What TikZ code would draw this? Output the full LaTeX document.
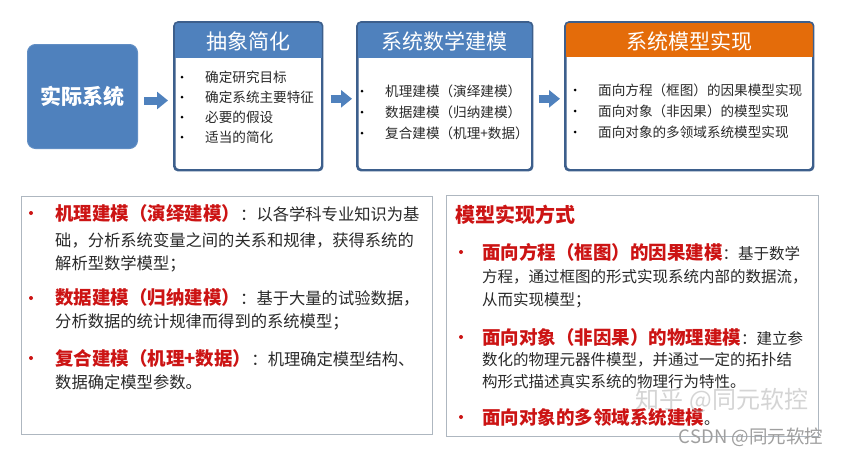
\documentclass[tikz,border=0pt]{standalone}
\usepackage{fontspec}
\setmainfont{Noto Sans CJK SC}
\usetikzlibrary{calc,arrows.meta}
\definecolor{hblue}{HTML}{4F81BD}
\definecolor{bdark}{HTML}{3D5F8C}
\definecolor{horange}{HTML}{E46C0A}
\definecolor{tred}{HTML}{CC1414}
\definecolor{gbord}{HTML}{AEB7C0}
\definecolor{txt}{HTML}{2A2A2A}
\definecolor{arrblue}{HTML}{4F81BD}
\newcommand\redkey[1]{{\color{tred}\bfseries\fontsize{18.5pt}{21pt}\selectfont #1}}
\begin{document}
\begin{tikzpicture}[x=1pt,y=-1pt,
  realbox/.style={rounded corners=8pt, fill=hblue, draw=hblue!90!white, line width=1pt,
    text=white, font=\bfseries\fontsize{21pt}{24pt}\selectfont, anchor=north west, inner sep=0pt},
  outerbox/.style={draw=bdark, line width=1.6pt, rounded corners=4pt, fill=white,
    anchor=north west, inner sep=0pt},
  htext/.style={text=white, font=\fontsize{21pt}{24pt}\selectfont, inner sep=0pt},
  bul/.style={circle, fill=black, inner sep=0pt, minimum size=3pt},
  itm/.style={anchor=west, inner sep=0pt, text=txt, font=\fontsize{13.6pt}{16pt}\selectfont},
  lowbox/.style={draw=gbord, line width=1.1pt, anchor=north west, inner sep=0pt},
  rbul/.style={circle, fill=tred, inner sep=0pt, minimum size=4pt},
  lnL/.style={anchor=west, inner sep=0pt, text=txt, font=\fontsize{16.3pt}{19pt}\selectfont},
  lnR/.style={anchor=west, inner sep=0pt, text=txt, font=\fontsize{15.5pt}{18pt}\selectfont},
  blockarrow/.style={arrblue, line width=8pt, -{Triangle[length=11pt,width=17pt]}}
]
\useasboundingbox (0,0) rectangle (843,456);
\fill[white] (0,0) rectangle (843,456);

% ---- top row ----
\node[realbox, minimum width=110pt, minimum height=104pt] (real) at (27,44) {实际系统};

\node[outerbox, minimum width=147pt, minimum height=147pt] (abs) at (174,22) {};
\node[outerbox, minimum width=174pt, minimum height=147pt] (math) at (357,22) {};
\node[outerbox, minimum width=247pt, minimum height=147pt] (impl) at (565,22) {};

\begin{scope}
  \clip[rounded corners=4pt] (abs.north west) rectangle (abs.south east);
  \fill[hblue] (abs.north west) rectangle ($(abs.north east)+(0,36)$);
\end{scope}
\begin{scope}
  \clip[rounded corners=4pt] (math.north west) rectangle (math.south east);
  \fill[hblue] (math.north west) rectangle ($(math.north east)+(0,36)$);
\end{scope}
\begin{scope}
  \clip[rounded corners=4pt] (impl.north west) rectangle (impl.south east);
  \fill[horange] (impl.north west) rectangle ($(impl.north east)+(0,35)$);
\end{scope}
\draw[bdark, line width=1.6pt, rounded corners=4pt] (abs.north west) rectangle (abs.south east);
\draw[bdark, line width=1.6pt, rounded corners=4pt] (math.north west) rectangle (math.south east);
\draw[bdark, line width=1.6pt, rounded corners=4pt] (impl.north west) rectangle (impl.south east);

\node[htext] (absh) at ($(abs.north)+(0,19)$) {抽象简化};
\node[htext] (mathh) at ($(math.north)+(0,19)$) {系统数学建模};
\node[htext] (implh) at ($(impl.north)+(0,19)$) {系统模型实现};

% abstraction list
\node[bul] (ab1) at (182,77) {};  \node[itm] (a1) at (205,77) {确定研究目标};
\node[bul] (ab2) at (182,97) {};  \node[itm] (a2) at (205,97) {确定系统主要特征};
\node[bul] (ab3) at (182,117) {}; \node[itm] (a3) at (205,117) {必要的假设};
\node[bul] (ab4) at (182,137) {}; \node[itm] (a4) at (205,137) {适当的简化};

% math modelling list
\node[bul] (mb1) at (362,91) {};  \node[itm] (m1) at (385,91) {机理建模（演绎建模）};
\node[bul] (mb2) at (362,112) {}; \node[itm] (m2) at (385,112) {数据建模（归纳建模）};
\node[bul] (mb3) at (362,133) {}; \node[itm] (m3) at (385,133) {复合建模（机理+数据）};

% implementation list
\node[bul] (ib1) at (575,90) {};  \node[itm] (i1) at (598,90) {面向方程（框图）的因果模型实现};
\node[bul] (ib2) at (575,111) {}; \node[itm] (i2) at (598,111) {面向对象（非因果）的模型实现};
\node[bul] (ib3) at (575,132) {}; \node[itm] (i3) at (598,132) {面向对象的多领域系统模型实现};

% block arrows
\draw[blockarrow] ($(real.east)+(6,4)$) -- ($(real.east -| abs.west)+(-6,4)$);
\draw[blockarrow] ($(abs.east)+(8,2.5)$) -- ($(abs.east -| math.west)+(-5,2.5)$);
\draw[blockarrow] ($(math.east)+(6,2.5)$) -- ($(math.east -| impl.west)+(-5,2.5)$);

% ---- bottom left box ----
\node[lowbox, minimum width=411pt, minimum height=238pt] (lowL) at (21,196) {};
\node[rbul] (lb1) at (31,213) {};
\node[lnL] (l1) at (55,213) {\redkey{机理建模（演绎建模）}：以各学科专业知识为基};
\node[lnL] (l2) at (55,240) {础，分析系统变量之间的关系和规律，获得系统的};
\node[lnL] (l3) at (55,264) {解析型数学模型；};
\node[rbul] (lb2) at (31,298) {};
\node[lnL] (l4) at (55,298) {\redkey{数据建模（归纳建模）}：基于大量的试验数据，};
\node[lnL] (l5) at (55,322) {分析数据的统计规律而得到的系统模型；};
\node[rbul] (lb3) at (31,358) {};
\node[lnL] (l6) at (55,358) {\redkey{复合建模（机理+数据）}：机理确定模型结构、};
\node[lnL] (l7) at (55,382) {数据确定模型参数。};

% ---- bottom right box ----
\node[lowbox, minimum width=372pt, minimum height=241pt] (lowR) at (446,195) {};
\node[anchor=west, inner sep=0pt, text=tred, font=\bfseries\fontsize{20pt}{23pt}\selectfont] (rt) at (455,215) {模型实现方式};
\node[rbul] (rb1) at (461,252) {};
\node[lnR] (r1) at (482,252) {\redkey{面向方程（框图）的因果建模}：基于数学};
\node[lnR] (r2) at (482,277) {方程，通过框图的形式实现系统内部的数据流，};
\node[lnR] (r3) at (482,300) {从而实现模型；};
\node[rbul] (rb2) at (461,337) {};
\node[lnR] (r4) at (482,337) {\redkey{面向对象（非因果）的物理建模}：建立参};
\node[lnR] (r5) at (482,360) {数化的物理元器件模型，并通过一定的拓扑结};
\node[lnR] (r6) at (482,382) {构形式描述真实系统的物理行为特性。};
\node[rbul] (rb3) at (461,417) {};
\node[lnR] (r7) at (482,417) {\redkey{面向对象的多领域系统建模}。};

% watermarks
\node[text=gray!60, opacity=0.55, inner sep=0pt, font=\fontsize{24pt}{26pt}\selectfont] (wm1) at (722,400) {知乎 @同元软控};
\node[text=gray!75, inner sep=0pt, font=\fontsize{18.5pt}{20pt}\selectfont] (wm2) at (751,437) {CSDN @同元软控};
\end{tikzpicture}
\end{document}
